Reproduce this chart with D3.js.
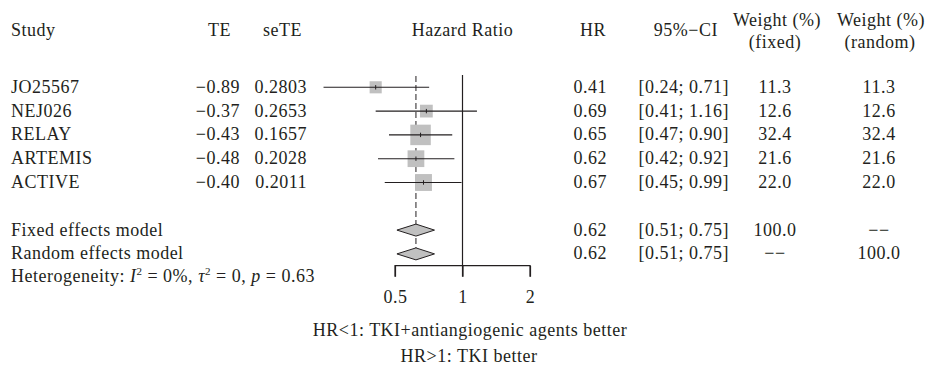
<!DOCTYPE html>
<html>
<head>
<meta charset="utf-8">
<script src="https://cdn.jsdelivr.net/npm/d3@7"></script>
<style>
  body { margin: 0; background: #fff; }
  svg text { font-family: "Liberation Serif", "Times New Roman", serif; font-size: 18px; fill: #231f20; letter-spacing: 0.5px; }
</style>
</head>
<body>
<div id="chart"></div>
<script>
// Données des études
const studies = ["JO25567", "NEJ026", "RELAY", "ARTEMIS", "ACTIVE"];
const te = ["−0.89", "−0.37", "−0.43", "−0.48", "−0.40"];
const seTE = ["0.2803", "0.2653", "0.1657", "0.2028", "0.2011"];
const hr = [0.41, 0.69, 0.65, 0.62, 0.67];
const lower = [0.24, 0.41, 0.47, 0.42, 0.45];
const upper = [0.71, 1.16, 0.90, 0.92, 0.99];
const wFixed = [11.3, 12.6, 32.4, 21.6, 22.0];
const wRandom = [11.3, 12.6, 32.4, 21.6, 22.0];

// Modèles poolés
const models = ["Fixed effects model", "Random effects model"];
const modelHR = [0.62, 0.62];
const modelLower = [0.51, 0.51];
const modelUpper = [0.75, 0.75];
const modelWFixed = ["100.0", "−−"];
const modelWRandom = ["−−", "100.0"];

const xTicks = [0.5, 1, 2];

(function() {
    const width = 929, height = 366;
    const fmt2 = d3.format(".2f");
    const fmt1 = d3.format(".1f");

    const svg = d3.select("#chart").append("svg")
        .attr("width", width)
        .attr("height", height);

    // Échelles
    const x = d3.scaleLog().domain([0.5, 2]).range([395, 530]);
    const y = d3.scaleLinear().domain([0, 7]).range([87.3, 253.9]);
    const size = d3.scaleSqrt().domain([0, d3.max(wFixed)]).range([0, 20.5]);
    const base = 5.4; // décalage ligne de base du texte

    // En-têtes
    const headers = [
        { t: "Study", x: 11, a: "start", y: 36 },
        { t: "TE", x: 231, a: "end", y: 36 },
        { t: "seTE", x: 302, a: "end", y: 36 },
        { t: "Hazard Ratio", x: x(1), a: "middle", y: 36 },
        { t: "HR", x: 606, a: "end", y: 36 },
        { t: "95%−CI", x: 718, a: "end", y: 36 },
        { t: "Weight (%)", x: 777, a: "middle", y: 26 },
        { t: "(fixed)", x: 775, a: "middle", y: 48 },
        { t: "Weight (%)", x: 881, a: "middle", y: 26 },
        { t: "(random)", x: 880, a: "middle", y: 48 }
    ];
    svg.append("g").selectAll("text").data(headers).join("text")
        .attr("x", d => d.x).attr("y", d => d.y)
        .attr("text-anchor", d => d.a)
        .text(d => d.t);

    // Lignes verticales
    svg.append("line")
        .attr("x1", x(modelHR[0])).attr("x2", x(modelHR[0]))
        .attr("y1", 76).attr("y2", y(7) - 6)
        .attr("stroke", "#231f20").attr("stroke-width", 1)
        .attr("stroke-dasharray", "6,3");
    svg.append("line")
        .attr("x1", x(1)).attr("x2", x(1))
        .attr("y1", 75).attr("y2", 276.7)
        .attr("stroke", "#231f20").attr("stroke-width", 1.2);

    // Études
    const rows = studies.map((s, i) => ({
        name: s, te: te[i], se: seTE[i], hr: hr[i], lo: lower[i], hi: upper[i],
        wf: wFixed[i], wr: wRandom[i], row: i
    }));

    const g = svg.append("g").selectAll("g").data(rows).join("g");

    g.append("rect")
        .attr("x", d => x(d.hr) - size(d.wf) / 2)
        .attr("y", d => y(d.row) - size(d.wf) / 2)
        .attr("width", d => size(d.wf))
        .attr("height", d => size(d.wf))
        .attr("fill", "#c0c0c0");
    g.append("line")
        .attr("x1", d => x(d.lo)).attr("x2", d => x(d.hi))
        .attr("y1", d => y(d.row)).attr("y2", d => y(d.row))
        .attr("stroke", "#231f20").attr("stroke-width", 1.1);
    g.append("line")
        .attr("x1", d => x(d.hr)).attr("x2", d => x(d.hr))
        .attr("y1", d => y(d.row) - 2.2).attr("y2", d => y(d.row) + 2.2)
        .attr("stroke", "#231f20").attr("stroke-width", 1);

    g.append("text").attr("x", 11).attr("y", d => y(d.row) + base).text(d => d.name);
    g.append("text").attr("x", 240).attr("y", d => y(d.row) + base).attr("text-anchor", "end").text(d => d.te);
    g.append("text").attr("x", 307).attr("y", d => y(d.row) + base).attr("text-anchor", "end").text(d => d.se);
    g.append("text").attr("x", 607).attr("y", d => y(d.row) + base).attr("text-anchor", "end").text(d => fmt2(d.hr));
    g.append("text").attr("x", 729).attr("y", d => y(d.row) + base).attr("text-anchor", "end")
        .text(d => `[${fmt2(d.lo)}; ${fmt2(d.hi)}]`);
    g.append("text").attr("x", 775).attr("y", d => y(d.row) + base).attr("text-anchor", "middle").text(d => fmt1(d.wf));
    g.append("text").attr("x", 879).attr("y", d => y(d.row) + base).attr("text-anchor", "middle").text(d => fmt1(d.wr));

    // Modèles
    const mrows = models.map((m, i) => ({
        name: m, hr: modelHR[i], lo: modelLower[i], hi: modelUpper[i],
        wf: modelWFixed[i], wr: modelWRandom[i], row: 6 + i
    }));
    const mg = svg.append("g").selectAll("g").data(mrows).join("g");
    mg.append("path")
        .attr("d", d => {
            const yc = y(d.row);
            return `M${x(d.lo)},${yc} L${x(d.hr)},${yc - 6} L${x(d.hi)},${yc} L${x(d.hr)},${yc + 6} Z`;
        })
        .attr("fill", "#c0c0c0").attr("stroke", "#231f20").attr("stroke-width", 1);
    mg.append("text").attr("x", 11).attr("y", d => y(d.row) + base).text(d => d.name);
    mg.append("text").attr("x", 607).attr("y", d => y(d.row) + base).attr("text-anchor", "end").text(d => fmt2(d.hr));
    mg.append("text").attr("x", 729).attr("y", d => y(d.row) + base).attr("text-anchor", "end")
        .text(d => `[${fmt2(d.lo)}; ${fmt2(d.hi)}]`);
    mg.append("text").attr("x", 775).attr("y", d => y(d.row) + base).attr("text-anchor", "middle").text(d => d.wf);
    mg.append("text").attr("x", 879).attr("y", d => y(d.row) + base).attr("text-anchor", "middle").text(d => d.wr);

    // Hétérogénéité
    const het = svg.append("text").attr("x", 11).attr("y", y(8) + base - 1);
    het.append("tspan").text("Heterogeneity: ");
    het.append("tspan").attr("font-style", "italic").text("I");
    het.append("tspan").attr("font-size", "11px").attr("dy", -7).text("2");
    het.append("tspan").attr("dy", 7).text(" = 0%, ");
    het.append("tspan").attr("font-style", "italic").text("τ");
    het.append("tspan").attr("font-size", "11px").attr("dy", -7).text("2");
    het.append("tspan").attr("dy", 7).text(" = 0, ");
    het.append("tspan").attr("font-style", "italic").text("p");
    het.append("tspan").text(" = 0.63");

    // Axe
    const axisY = 265.7;
    const axis = d3.axisBottom(x).tickValues(xTicks).tickFormat(d3.format("")).tickSize(11).tickPadding(14);
    const ag = svg.append("g").attr("transform", `translate(0,${axisY})`).call(axis);
    ag.select(".domain").attr("d", `M${x(0.5)},11V0H${x(2)}V11`).attr("stroke", "#231f20").attr("stroke-width", 1.2);
    ag.selectAll(".tick line").attr("stroke", "#231f20").attr("stroke-width", 1.2);
    ag.selectAll(".tick text")
        .style("font-family", "'Liberation Serif', serif")
        .style("font-size", "18px")
        .attr("fill", "#231f20");

    // Légende sous l'axe
    svg.append("text").attr("x", 470).attr("y", 336).attr("text-anchor", "middle")
        .text("HR<1: TKI+antiangiogenic agents better");
    svg.append("text").attr("x", 469).attr("y", 361.5).attr("text-anchor", "middle")
        .text("HR>1: TKI better");
})();
</script>
</body>
</html>
